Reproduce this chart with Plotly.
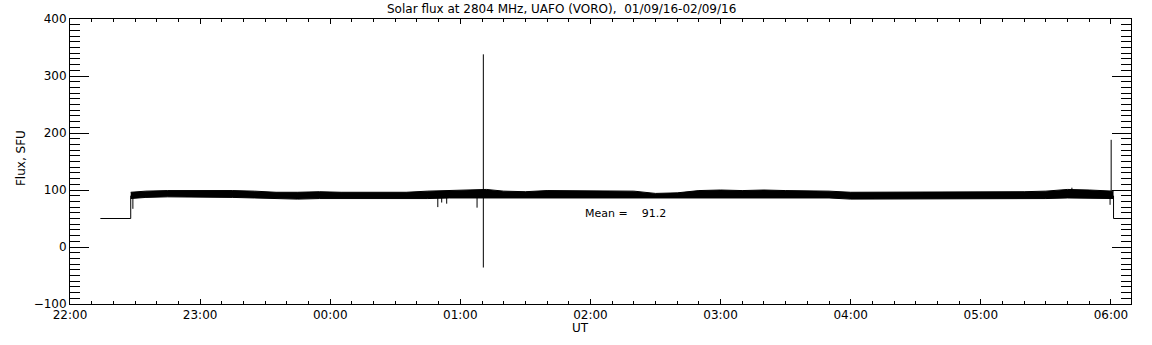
import plotly.graph_objects as go

D0 = "2016-09-01 "
D1 = "2016-09-02 "

# Envelope of the noisy flux record (time, upper, lower) in SFU
band_times = [D0+"22:28", D0+"22:35", D0+"22:45", D0+"22:55", D0+"23:05", D0+"23:15",
              D0+"23:25", D0+"23:35", D0+"23:45", D0+"23:55", D1+"00:05", D1+"00:15",
              D1+"00:25", D1+"00:35", D1+"00:45", D1+"00:55", D1+"01:05", D1+"01:12",
              D1+"01:20", D1+"01:30", D1+"01:40", D1+"01:50", D1+"02:00", D1+"02:10",
              D1+"02:20", D1+"02:30", D1+"02:40", D1+"02:50", D1+"03:00", D1+"03:10",
              D1+"03:20", D1+"03:30", D1+"03:40", D1+"03:50", D1+"04:00", D1+"04:10",
              D1+"04:20", D1+"04:30", D1+"04:40", D1+"04:50", D1+"05:00", D1+"05:10",
              D1+"05:20", D1+"05:30", D1+"05:40", D1+"05:50", D1+"06:01:12"]
band_upper = [96, 98, 99, 99, 100, 99, 98, 96, 96, 97, 96, 96, 97, 96, 98, 99, 99, 101,
              98, 97, 99, 99, 98, 98, 98, 94, 95, 99, 100, 99, 100, 99, 99, 98, 96, 96,
              96, 96, 96, 96, 97, 96, 97, 98, 101, 100, 98]
band_lower = [85, 87, 88, 88, 88, 87, 86, 85, 84, 85, 85, 84, 85, 85, 85, 86, 86, 87,
              87, 87, 87, 87, 87, 87, 87, 86, 86, 87, 87, 87, 87, 87, 87, 86, 84, 84,
              84, 84, 84, 85, 85, 85, 85, 85, 86, 85, 85]

# Individual spikes (time, low, high)
spike_times = [D0+"22:29", D1+"00:49:36", D1+"00:51:24", D1+"00:53:42", D1+"01:07:42",
               D1+"01:10:36", D1+"05:42", D1+"05:59:36", D1+"06:00:06"]
spike_low = [67, 70, 78, 76, 69, -36, 90, 74, 90]
spike_high = [90, 88, 88, 88, 90, 338, 104, 92, 188]

# Constant (calibration) level before and after the record
pre_times = [D0+"22:14", D0+"22:28", D0+"22:28"]
pre_vals = [50, 50, 90]
post_times = [D1+"06:01:12", D1+"06:01:12", D1+"06:15"]
post_vals = [90, 50, 50]

title_text = "Solar flux at 2804 MHz, UAFO (VORO),  01/09/16-02/09/16".replace("  ", "\u00a0\u00a0")
mean_text = "Mean =\u00a0\u00a0\u00a0\u00a091.2"
xlabel = "UT"
ylabel = "Flux, SFU"

fig = go.Figure()
fig.add_trace(go.Scatter(x=band_times, y=band_lower, mode="lines",
                         line=dict(color="black", width=1), showlegend=False))
fig.add_trace(go.Scatter(x=band_times, y=band_upper, mode="lines", fill="tonexty",
                         fillcolor="black", line=dict(color="black", width=1), showlegend=False))

sx, sy = [], []
for t, lo, hi in zip(spike_times, spike_low, spike_high):
    sx += [t, t, None]
    sy += [lo, hi, None]
fig.add_trace(go.Scatter(x=sx, y=sy, mode="lines", line=dict(color="black", width=1),
                         showlegend=False))
fig.add_trace(go.Scatter(x=pre_times, y=pre_vals, mode="lines",
                         line=dict(color="black", width=1), showlegend=False))
fig.add_trace(go.Scatter(x=post_times, y=post_vals, mode="lines",
                         line=dict(color="black", width=1), showlegend=False))

font = dict(family="DejaVu Sans", size=12, color="black")

fig.add_annotation(x=D1+"01:56:36", y=59, text=mean_text, showarrow=False,
                   xanchor="left", yanchor="middle",
                   font=dict(family="DejaVu Sans", size=11, color="black"))
fig.add_annotation(x=0.4637, y=1.035, xref="paper", yref="paper", text=title_text,
                   showarrow=False, xanchor="center", yanchor="middle", font=font)
fig.add_annotation(x=0.4816, y=-0.084, xref="paper", yref="paper", text=xlabel,
                   showarrow=False, xanchor="center", yanchor="middle", font=font)
fig.add_annotation(x=-0.0462, y=0.512, xref="paper", yref="paper", text=ylabel,
                   showarrow=False, xanchor="center", yanchor="middle", textangle=-90,
                   font=font)

fig.update_layout(
    width=1152, height=345,
    margin=dict(l=70, r=21, t=19, b=41, autoexpand=False),
    paper_bgcolor="white", plot_bgcolor="white",
    font=font, hovermode=False,
    xaxis=dict(range=[D0+"22:00", D1+"06:09:15"], type="date", automargin=False,
               tick0=D0+"22:00", dtick=3600000, tickformat="%H:%M",
               ticks="inside", ticklen=5, tickwidth=1, tickcolor="black",
               minor=dict(dtick=600000, ticks="inside", ticklen=3, tickcolor="black", showgrid=False),
               showline=True, linecolor="black", linewidth=1, mirror="ticks",
               showgrid=False, zeroline=False),
    yaxis=dict(range=[-100, 400], tick0=0, dtick=100, automargin=False,
               ticks="inside", ticklen=19, tickwidth=1, tickcolor="black",
               minor=dict(dtick=10, ticks="inside", ticklen=10, tickcolor="black", showgrid=False),
               showline=True, linecolor="black", linewidth=1, mirror="ticks",
               showgrid=False, zeroline=False),
)

fig.write_html("out.html", config={"displayModeBar": False},
               post_script="document.body.style.margin='0';document.body.style.overflow='hidden';")
